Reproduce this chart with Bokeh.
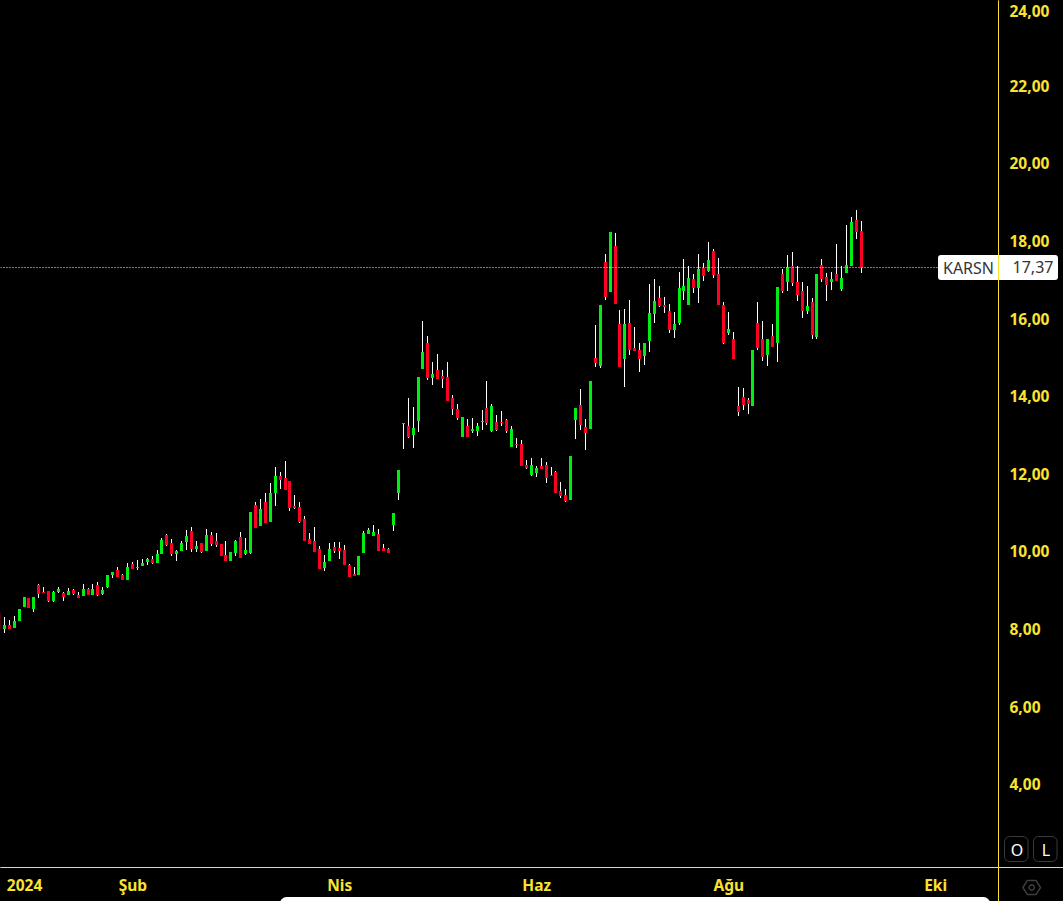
import numpy as np
from bokeh.embed import file_html
from bokeh.resources import INLINE
from bokeh.plotting import figure
from bokeh.models import BoxAnnotation, ColumnDataSource, FixedTicker, Label, PolyAnnotation

direction = ("RGRGGGRGRR" "RGGRGRRGRG" "RGGGRRGRGG" "GRGGRRGGGR"
             "GRGRRRRGGR" "GGRGRGGRRR" "RRRRRRGGRR" "RRRGGGGRRR"
             "GGGRGGGRGR" "RRRRGRGGGR" "GRRRGRRRGG" "RRRRRRGGRR"
             "GRGRGRRGRR" "RGGGRRRGGG" "GRGRGRRRGR" "RRRGRRGRGR"
             "GRRRGRGRRG" "RGGGRR")
body_high = [8.41,8.10,8.10,8.20,8.51,8.82,8.80,8.82,9.13,8.95,
 8.98,8.95,9.03,8.93,8.98,9.00,8.88,9.03,9.03,9.03,
 9.13,9.00,9.39,9.47,9.52,9.39,9.60,9.68,9.60,9.70,
 9.80,9.80,9.93,10.29,10.42,10.22,10.01,10.22,10.40,10.52,
 10.14,10.22,10.42,10.42,10.27,10.19,9.91,9.98,10.27,10.37,
 10.04,11.01,11.20,11.09,11.27,11.50,11.94,11.94,11.89,11.81,
 11.17,11.14,10.83,10.32,10.27,10.06,9.73,10.06,10.11,10.09,
 10.04,9.65,9.42,9.88,10.47,10.55,10.50,10.45,10.09,10.06,
 10.99,12.10,13.31,13.23,13.18,14.50,15.14,15.37,14.57,14.68,
 14.52,14.50,13.95,13.67,13.46,13.23,13.15,13.23,13.36,13.70,
 13.75,13.33,13.33,13.39,13.15,12.77,12.77,12.23,12.23,12.15,
 12.20,12.23,11.97,12.05,11.56,11.45,12.46,13.70,13.77,13.21,
 14.39,14.98,16.35,17.46,18.23,17.87,15.86,15.86,15.89,15.24,
 15.19,15.37,16.14,16.45,16.53,16.35,16.20,15.86,16.79,16.84,
 17.05,17.02,17.28,17.30,17.51,17.74,17.15,16.35,15.73,15.47,
 13.75,13.98,13.90,15.19,15.89,15.47,15.47,15.55,16.82,17.15,
 17.33,17.36,16.94,16.71,16.33,16.43,17.15,17.38,17.07,17.02,
 17.15,17.05,17.38,18.49,18.54,18.26]
body_low = [7.97,8.00,8.00,8.03,8.20,8.57,8.54,8.51,8.90,8.93,
 8.71,8.71,8.95,8.82,8.88,8.90,8.80,8.85,8.88,8.88,
 8.88,8.90,9.08,9.39,9.34,9.26,9.26,9.55,9.57,9.62,
 9.73,9.70,9.70,9.93,10.16,9.93,9.93,10.01,10.24,10.06,
 10.06,9.98,10.01,10.19,10.16,9.88,9.75,9.75,9.96,9.83,
 9.93,9.96,10.60,10.65,10.73,10.76,11.50,11.84,11.58,11.12,
 11.12,10.76,10.27,10.19,9.98,9.55,9.57,9.75,10.01,10.01,
 9.65,9.34,9.37,9.39,9.96,10.45,10.40,10.01,10.01,9.96,
 10.68,11.50,13.28,12.95,13.00,13.36,14.70,14.47,14.47,14.44,
 14.44,13.88,13.67,13.44,12.95,12.95,13.10,13.10,13.33,13.31,
 13.10,13.13,13.31,13.10,12.69,12.74,12.20,12.15,11.97,12.02,
 12.12,11.89,11.94,11.51,11.43,11.30,11.32,13.39,13.26,13.05,
 13.15,14.86,14.78,16.56,16.69,16.38,14.75,14.96,15.19,15.16,
 14.96,15.04,15.42,16.12,16.32,16.30,15.71,15.71,15.89,16.71,
 16.35,16.79,16.79,17.10,17.23,17.12,16.35,15.37,15.63,14.96,
 13.59,13.77,13.80,13.75,15.24,15.01,15.06,15.27,15.37,16.71,
 16.94,16.92,16.61,16.20,16.20,15.58,15.53,17.02,16.87,16.94,
 16.97,16.76,17.18,17.36,18.23,17.30]
wick_high = [8.41,8.31,8.23,8.34,8.51,8.82,8.80,8.82,9.16,9.08,
 8.98,8.98,9.08,8.95,9.06,9.03,8.95,9.16,9.06,9.16,
 9.21,9.08,9.39,9.47,9.60,9.42,9.70,9.73,9.78,9.80,
 9.83,9.88,10.04,10.35,10.45,10.32,10.04,10.27,10.55,10.63,
 10.27,10.22,10.58,10.50,10.47,10.19,10.27,9.98,10.29,10.50,
 10.35,11.01,11.27,11.35,11.50,11.76,12.17,12.05,12.33,11.81,
 11.45,11.27,10.91,10.47,10.63,10.14,9.91,10.22,10.24,10.24,
 10.17,9.68,9.60,9.88,10.53,10.60,10.68,10.58,10.19,10.09,
 10.99,12.10,13.31,13.95,13.72,14.50,15.94,15.55,14.88,15.09,
 14.68,14.88,14.03,13.80,13.46,13.41,13.44,13.31,13.64,14.39,
 13.80,13.51,13.62,13.41,13.23,12.92,12.87,12.36,12.41,12.20,
 12.41,12.30,12.18,12.07,11.79,11.61,12.46,13.70,14.18,13.41,
 14.39,15.84,16.35,17.66,18.23,18.21,16.22,16.25,16.48,15.78,
 15.37,15.37,16.89,17.02,16.84,16.56,16.38,16.17,17.20,17.54,
 17.36,17.15,17.66,17.43,17.97,17.79,17.56,16.43,16.17,15.65,
 14.24,14.21,13.95,15.19,16.43,15.94,15.47,15.86,16.82,17.28,
 17.64,17.72,17.36,16.94,16.84,16.53,17.15,17.54,17.18,17.20,
 17.92,17.36,18.41,18.62,18.80,18.52]
wick_low = [7.97,7.90,8.00,8.03,8.20,8.57,8.54,8.44,8.80,8.93,
 8.69,8.69,8.93,8.72,8.88,8.88,8.80,8.85,8.88,8.88,
 8.85,8.88,9.06,9.31,9.34,9.26,9.26,9.55,9.52,9.62,
 9.65,9.67,9.70,9.93,10.14,9.88,9.75,10.01,10.04,9.98,
 9.98,9.96,10.01,10.14,10.11,9.88,9.75,9.75,9.88,9.83,
 9.91,9.93,10.60,10.65,10.73,10.76,11.17,11.61,11.58,11.04,
 11.09,10.73,10.27,10.19,9.98,9.55,9.49,9.75,9.96,9.80,
 9.65,9.34,9.37,9.39,9.96,10.45,10.40,10.01,10.01,9.96,
 10.53,11.32,12.64,12.92,12.67,13.08,14.70,14.42,14.29,14.44,
 14.21,13.88,13.52,13.39,12.95,12.95,13.05,12.97,13.13,13.26,
 13.08,13.10,13.23,13.05,12.69,12.67,12.20,12.12,11.94,11.92,
 12.12,11.76,11.94,11.51,11.38,11.27,11.32,12.90,13.13,12.61,
 13.15,14.75,14.73,16.48,16.69,16.38,14.75,14.24,15.06,15.16,
 14.62,14.80,15.14,15.89,16.30,16.14,15.63,15.50,15.84,16.48,
 16.35,16.66,16.40,16.97,17.20,17.05,16.35,15.34,15.58,14.96,
 13.49,13.64,13.54,13.75,15.19,14.91,14.78,15.27,14.88,16.66,
 16.71,16.84,16.45,16.02,16.12,15.47,15.47,16.94,16.45,16.74,
 16.97,16.71,17.18,17.36,18.05,17.18]
last_price = 17.37
symbol = "KARSN"
last_label = "17,37"
price_ticks = [4, 6, 8, 10, 12, 14, 16, 18, 20, 22, 24]
price_labels = ["4,00", "6,00", "8,00", "10,00", "12,00", "14,00", "16,00", "18,00", "20,00", "22,00", "24,00"]
date_ticks = [5, 27, 69, 109, 148, 190]
date_labels = ["2024", "Şub", "Nis", "Haz", "Ağu", "Eki"]
assert all(len(a) == len(direction) for a in (body_high, body_low, wick_high, wick_low))

YELLOW = "#F9E330"
W, H = 1063, 901
step = 4.925
x0 = 4.33 - step
px_per_unit = 38.8
y18 = 242.6
# Bokeh's canvas sits half a pixel off: aim half a pixel early to land on the pixel grid
x_raw = lambda px: (px - x0) / step
y_raw = lambda py: 18 + (y18 - py) / px_per_unit
x_at = lambda px: x_raw(px - 0.5)
y_at = lambda py: y_raw(py - 0.5)
# the source chart snaps every candle to whole device pixels
snap_x = lambda i: x_at(np.floor(x0 + step * i) + 0.5)
snap_y = lambda v: y_at(np.round(241 + (18 - np.array(v)) * px_per_unit))

idx = np.arange(len(direction))
src = ColumnDataSource(dict(
    x=snap_x(idx),
    top=snap_y(body_high), bottom=snap_y(body_low),
    hi=snap_y(wick_high), lo=snap_y(wick_low),
    color=["#00EE11" if c == "G" else "#FF0022" for c in direction]))

p = figure(width=W, height=H, output_backend="svg", toolbar_location=None,
           x_range=(x_raw(0), x_raw(W)), y_range=(y_raw(H), y_raw(0)),
           y_axis_location="right", background_fill_color="black",
           border_fill_color="black", min_border=0)
p.styles = {"background-color": "black"}
p.grid.visible = False
p.outline_line_color = None

for ax in (p.xaxis[0], p.yaxis[0]):
    ax.axis_line_color = YELLOW
    ax.major_tick_line_color = None
    ax.minor_tick_line_color = None
    ax.major_tick_out = 0
    ax.major_tick_in = 0
    ax.major_label_text_color = YELLOW
    ax.major_label_text_font = "Noto Sans"
    ax.major_label_text_font_size = "15.5px"
    ax.major_label_text_font_style = "bold"
p.yaxis[0].fixed_location = x_at(998.5)
p.xaxis[0].fixed_location = y_at(867.5)
tick_pos = [round(t + (-0.01 if t == 24 else 0.052), 3) for t in price_ticks]
p.yaxis[0].ticker = FixedTicker(ticks=tick_pos)
p.yaxis[0].major_label_overrides = dict(zip(tick_pos, price_labels))
p.yaxis[0].major_label_standoff = 11
p.xaxis[0].ticker = FixedTicker(ticks=date_ticks)
p.xaxis[0].major_label_overrides = dict(zip(date_ticks, date_labels))
p.xaxis[0].major_label_standoff = 6

p.segment("x", "hi", "x", "lo", source=src, line_color="white", line_width=1)
p.vbar("x", width=3 / step, top="top", bottom="bottom", source=src,
       fill_color="color", line_color=None)
p.segment([x_raw(0)], [last_price], [x_at(938)], [last_price], line_color="white",
          line_width=1, line_dash="1 2")


def box(l, r, t, b, color, line=None, radius=0):
    p.add_layout(BoxAnnotation(left=l - 0.5, right=r - 0.5, top=t - 0.5, bottom=b - 0.5, left_units="canvas",
                               right_units="canvas", top_units="canvas", bottom_units="canvas",
                               fill_color=color, fill_alpha=1, line_color=line, line_width=1,
                               line_alpha=1 if line else 0, border_radius=radius, level="overlay"))


def label(x, y, text, color, size="16px", style="normal", font="Noto Sans"):
    p.add_layout(Label(x=x, y=y, x_units="canvas", y_units="canvas", text=text, text_color=color,
                       text_font=font, text_font_size=size, text_font_style=style,
                       text_align="center", text_baseline="middle", level="overlay"))


box(280, 990, 897, 910, "white", radius=8)
box(938, 1058, 255, 280, "white", radius=3)
box(998, 999, 0, H, YELLOW)
box(0, W, 867, 868, YELLOW)
label(968, 267.5, symbol, "#333333")
label(1032.5, 266.5, last_label, "#333333")
box(1004.5, 1028, 836.5, 861.5, "black", line="#3A3A3A", radius=5)
box(1033.5, 1057, 836.5, 861.5, "black", line="#3A3A3A", radius=5)
label(1016.5, 849, "O", "white")
label(1045.5, 849, "L", "white")

hx, hy = 1031.2, 887
for r, ry in ((8.8, 8), (2.7, 2.7)):
    if r > 5:
        ang = np.radians([0, 60, 120, 180, 240, 300])
    else:
        ang = np.radians(np.arange(0, 360, 30))
    p.add_layout(PolyAnnotation(xs=list(hx + r * np.cos(ang)), ys=list(hy + ry * np.sin(ang)),
                                xs_units="canvas", ys_units="canvas", fill_alpha=0,
                                line_color="#D0D0D0", line_width=1.4))

open("out.html", "w").write(file_html(p, INLINE))
